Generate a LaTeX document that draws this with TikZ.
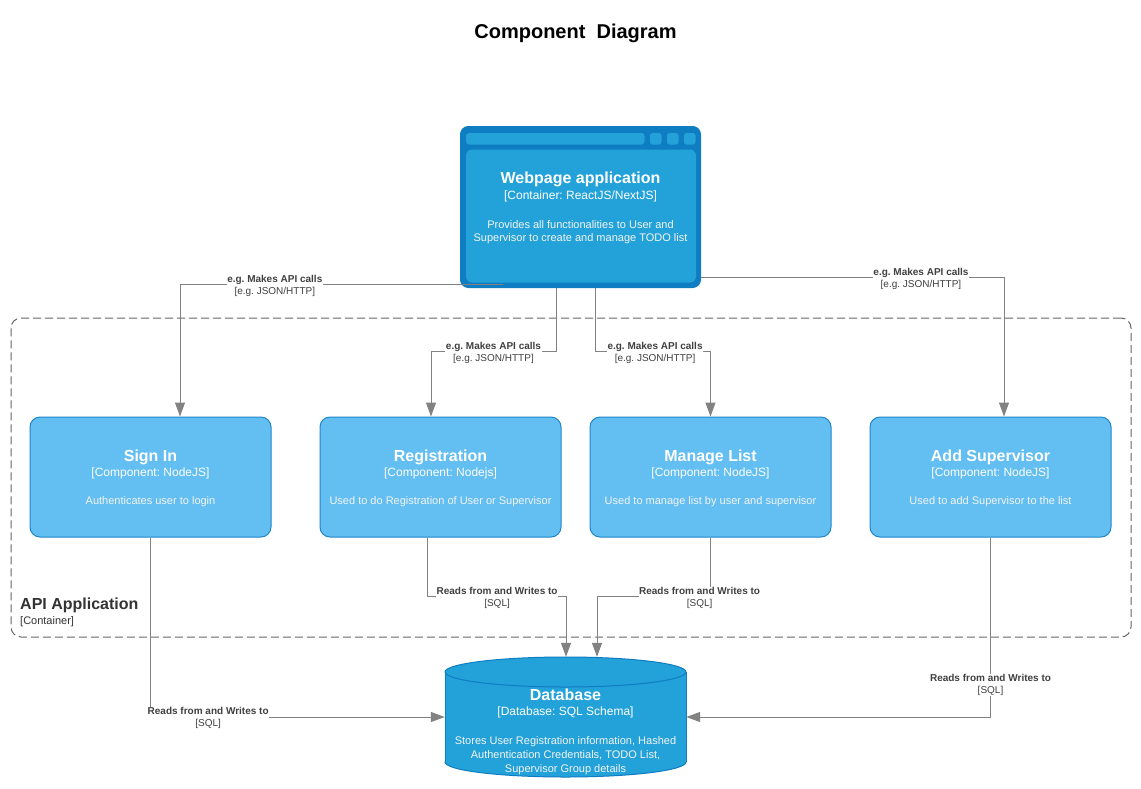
\documentclass[tikz,border=0pt]{standalone}
\usepackage{fontspec}
\setmainfont{Liberation Sans}
\usetikzlibrary{arrows.meta,calc}
\frenchspacing
\definecolor{webdark}{HTML}{0E7DC2}
\definecolor{webfill}{HTML}{23A2D9}
\definecolor{compfill}{HTML}{63BEF2}
\definecolor{compline}{HTML}{2086C9}
\definecolor{edgecol}{HTML}{828282}
\definecolor{lblcol}{HTML}{404040}
\definecolor{bndcol}{HTML}{666666}
\definecolor{desccol}{HTML}{F4F4F4}
\definecolor{bndtext}{HTML}{333333}
\newcommand\mkcomp[5]{%
  \node[comp] (#1) at (#2,477) {};
  \node[boxttl] (#1-t) at ($(#1.north)+(0,44.5)$) {#3};
  \node[boxtech] (#1-k) at ($(#1.north)+(0,60)$) {#4};
  \node[boxdesc] (#1-d) at ($(#1.north)+(0,88)$) {#5};
}
\begin{document}
\begin{tikzpicture}[x=1pt,y=-1pt,
  comp/.style={draw=compline, fill=compfill, line width=1pt, rounded corners=10pt, minimum width=241pt, minimum height=120pt, inner sep=0pt},
  boxttl/.style={anchor=base, inner sep=0pt, text=white, font=\fontsize{16}{19}\selectfont\bfseries},
  boxtech/.style={anchor=base, inner sep=0pt, text=white, font=\fontsize{12}{14}\selectfont},
  boxdesc/.style={anchor=base, inner sep=0pt, text=desccol, font=\fontsize{11}{13}\selectfont},
  rel/.style={draw=edgecol, line width=1pt, -{Triangle[length=14pt,width=10pt]}},
  lbl/.style={fill=white, inner sep=0.5pt, text=lblcol, align=center, font=\fontsize{10}{12}\selectfont, yshift=-1pt},
  boundary/.style={draw=bndcol, line width=1pt, dash pattern=on 8pt off 4pt, rounded corners=10pt, inner sep=0pt},
]
\useasboundingbox (0,0) rectangle (1141,788);
\fill[white] (0,0) rectangle (1141,788);

% title
\node[anchor=base, inner sep=0pt, font=\fontsize{20}{24}\selectfont\bfseries] (title) at (575.5,38.2) {Component\ \ Diagram};

% boundary
\node[boundary, minimum width=1120pt, minimum height=319pt] (api) at (571,477.5) {};
\node[anchor=base west, inner sep=0pt, text=bndtext, font=\fontsize{16}{19}\selectfont\bfseries] (apiname) at (20,609.8) {API Application};
\node[anchor=base west, inner sep=0pt, text=bndtext, font=\fontsize{11}{13}\selectfont] (apitype) at (20,624) {[Container]};

% webpage application
\node[fill=webdark, draw=webdark, line width=1pt, rounded corners=8pt, minimum width=240pt, minimum height=161pt, inner sep=0pt] (web) at (580.5,207) {};
\fill[webfill, rounded corners=6pt] (466,149.5) rectangle (696,282.5);
\fill[webfill, rounded corners=3pt] (466,133) rectangle (644.5,144.5);
\fill[webfill, rounded corners=2.5pt] (650,133) rectangle (661.5,144.5);
\fill[webfill, rounded corners=2.5pt] (667,133) rectangle (678.5,144.5);
\fill[webfill, rounded corners=2.5pt] (684,133) rectangle (695.5,144.5);
\node[boxttl] (web-t) at (580.5,183.8) {Webpage application};
\node[boxtech] (web-k) at (580.5,199.3) {[Container: ReactJS/NextJS]};
\node[boxdesc] (web-d1) at (580.5,228.3) {Provides all functionalities to User and};
\node[boxdesc] (web-d2) at (580.5,241.3) {Supervisor to create and manage TODO list};

% components
\mkcomp{signin}{150.5}{Sign In}{[Component: NodeJS]}{Authenticates user to login}
\mkcomp{reg}{440.5}{Registration}{[Component: Nodejs]}{Used to do Registration of User or Supervisor}
\mkcomp{manage}{710.5}{Manage List}{[Component: NodeJS]}{Used to manage list by user and supervisor}
\mkcomp{addsup}{990.5}{Add Supervisor}{[Component: NodeJS]}{Used to add Supervisor to the list}

% database cylinder
\filldraw[fill=webfill, draw=webdark, line width=1pt] (565.5,762) ellipse [x radius=120.5pt, y radius=15pt];
\fill[webfill] (445,672) rectangle (686,762);
\draw[webdark, line width=1pt] (445,672) -- (445,762) (686,672) -- (686,762);
\filldraw[fill=webfill, draw=webdark, line width=1pt] (565.5,672) ellipse [x radius=120.5pt, y radius=15pt];
\node[minimum width=241pt, minimum height=120pt, inner sep=0pt] (db) at (565.5,717) {};
\node[boxttl] (db-t) at (565.5,700.1) {Database};
\node[boxtech] (db-k) at (565.5,715.3) {[Database: SQL Schema]};
\node[boxdesc] (db-d1) at (565.5,744.3) {Stores User Registration information, Hashed};
\node[boxdesc] (db-d2) at (565.5,758.3) {Authentication Credentials, TODO List,};
\node[boxdesc] (db-d3) at (565.5,772.6) {Supervisor Group details};

% connectors from webpage
\draw[rel] ($(web.south west)+(42.5,-3.5)$) -| node[lbl,pos=0.353]{\textbf{e.g. Makes API calls}\\{[e.g. JSON/HTTP]}} ($(signin.north)+(29.5,0)$);
\draw[rel] ($(web.south)+(-24.5,0)$) |- node[lbl,pos=0.75]{\textbf{e.g. Makes API calls}\\{[e.g. JSON/HTTP]}} ($(reg.north)+(-9.5,-65)$) -- ($(reg.north)+(-9.5,0)$);
\draw[rel] ($(web.south)+(14.5,0)$) |- node[lbl,pos=0.76]{\textbf{e.g. Makes API calls}\\{[e.g. JSON/HTTP]}} ($(manage.north)+(0,-65)$) -- (manage.north);
\draw[rel] ($(web.south east)+(0,-10.5)$) -| node[lbl,pos=0.363]{\textbf{e.g. Makes API calls}\\{[e.g. JSON/HTTP]}} ($(addsup.north)+(13.5,0)$);

% connectors to database
\draw[rel] ($(reg.south)+(-13.5,0)$) |- node[lbl,pos=0.752]{\textbf{Reads from and Writes to}\\{[SQL]}} ($(db.north)+(0.5,-60)$) -- ($(db.north)+(0.5,0)$);
\draw[rel] (manage.south) |- node[lbl,pos=0.548]{\textbf{Reads from and Writes to}\\{[SQL]}} ($(db.north)+(31.5,-60)$) -- ($(db.north)+(31.5,0)$);
\draw[rel] (signin.south) |- node[lbl,pos=0.598]{\textbf{Reads from and Writes to}\\{[SQL]}} (db.west);
\draw[rel] (addsup.south) |- node[lbl,pos=0.408]{\textbf{Reads from and Writes to}\\{[SQL]}} (db.east);
\end{tikzpicture}
\end{document}
